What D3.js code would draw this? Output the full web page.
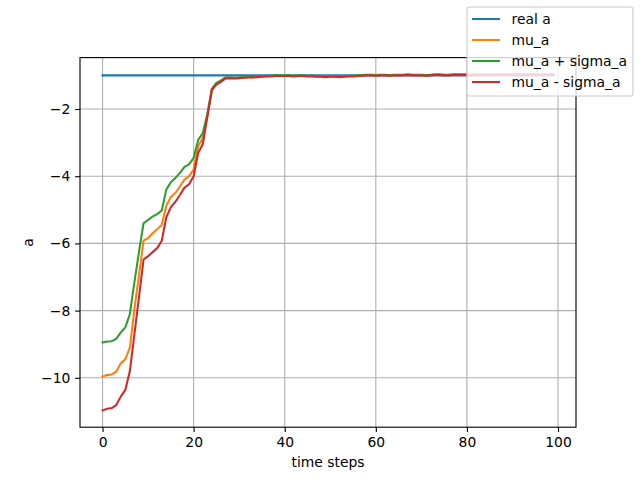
<!DOCTYPE html>
<html><head><meta charset="utf-8">
<script src="https://cdn.jsdelivr.net/npm/d3@7"></script>
<style>body{margin:0;background:#fff}svg{display:block}text{font-family:"DejaVu Sans",sans-serif}</style>
</head><body>
<script>
const steps = d3.range(0, 100);
const realA = steps.map(() => -1);
const muHead = [-9.96,-9.92,-9.90,-9.82,-9.57,-9.45,-9.10,-7.95,-6.95,-5.92,-5.84,-5.70,-5.58,-5.45,-4.88,-4.62,-4.50,-4.30,-4.10,-4.00,-3.80,-3.10,-2.86,-2.20,-1.42,-1.25,-1.17,-1.08];
const upperHead = [-8.95,-8.92,-8.91,-8.84,-8.65,-8.50,-8.10,-7.15,-6.25,-5.40,-5.30,-5.20,-5.13,-5.02,-4.40,-4.18,-4.05,-3.90,-3.72,-3.65,-3.45,-2.92,-2.72,-2.15,-1.40,-1.22,-1.15,-1.06];
const lowerHead = [-10.97,-10.92,-10.90,-10.81,-10.56,-10.36,-9.80,-8.70,-7.60,-6.48,-6.38,-6.26,-6.14,-5.92,-5.22,-4.92,-4.76,-4.56,-4.34,-4.24,-4.00,-3.30,-3.05,-2.25,-1.44,-1.27,-1.19,-1.09];
const muTail = [-1.07,-1.08,-1.07,-1.06,-1.05,-1.05,-1.04,-1.03,-1.02,-1.02,-1.01,-1.01,-1.01,-1.01,-1.02,-1.01,-1.01,-1.02,-1.02,-1.03,-1.03,-1.04,-1.03,-1.03,-1.04,-1.03,-1.02,-1.02,-1.01,-1.00,-0.99,-0.99,-1.00,-0.99,-0.99,-1.00,-0.99,-0.99,-0.99,-0.98,-0.99,-0.99,-0.99,-1.00,-0.99,-0.98,-0.98,-0.99,-0.99,-0.98,-0.98,-0.98,-0.98,-0.99,-0.98,-0.98,-0.98,-0.98,-0.98,-0.98,-0.98,-0.98,-0.98,-0.98,-0.98,-0.98,-0.98,-0.98,-0.98,-0.98,-0.98,-0.98];
const upperTail = [-1.06,-1.07,-1.06,-1.05,-1.04,-1.04,-1.03,-1.02,-1.01,-1.01,-1.00,-1.00,-1.00,-1.00,-1.01,-1.00,-1.00,-1.01,-1.01,-1.02,-1.02,-1.03,-1.02,-1.02,-1.03,-1.02,-1.01,-1.01,-1.00,-0.99,-0.98,-0.98,-0.99,-0.98,-0.98,-0.99,-0.98,-0.98,-0.98,-0.97,-0.98,-0.98,-0.98,-0.99,-0.98,-0.97,-0.97,-0.98,-0.98,-0.97,-0.97,-0.97,-0.97,-0.98,-0.97,-0.97,-0.97,-0.97,-0.97,-0.97,-0.97,-0.97,-0.97,-0.97,-0.97,-0.97,-0.97,-0.97,-0.97,-0.97,-0.97,-0.97];
const lowerTail = [-1.08,-1.09,-1.08,-1.07,-1.06,-1.06,-1.05,-1.04,-1.03,-1.03,-1.02,-1.02,-1.02,-1.02,-1.03,-1.02,-1.02,-1.03,-1.03,-1.04,-1.04,-1.05,-1.04,-1.04,-1.05,-1.04,-1.03,-1.03,-1.02,-1.01,-1.00,-1.00,-1.01,-1.00,-1.00,-1.01,-1.00,-1.00,-1.00,-0.99,-1.00,-1.00,-1.00,-1.01,-1.00,-0.99,-0.99,-1.00,-1.00,-0.99,-0.99,-0.99,-0.99,-1.00,-0.99,-0.99,-0.99,-0.99,-0.99,-0.99,-0.99,-0.99,-0.99,-0.99,-0.99,-0.99,-0.99,-0.99,-0.99,-0.99,-0.99,-0.99];
const muA = muHead.concat(muTail);
const upperA = upperHead.concat(upperTail);
const lowerA = lowerHead.concat(lowerTail);
const seriesNames = ["real a", "mu_a", "mu_a + sigma_a", "mu_a - sigma_a"];
const seriesColors = ["#1f77b4", "#ff7f0e", "#2ca02c", "#d62728"];
const xTicks = [0, 20, 40, 60, 80, 100];
const yTicks = [-10, -8, -6, -4, -2];
const xLabel = "time steps", yLabel = "a";

const W = 640, H = 480;
const L = 80, R = 576, T = 57.6, B = 427.2;
const series = [realA, muA, upperA, lowerA];
const all = series.flat();
const [ymin, ymax] = d3.extent(all);
const ypad = (ymax - ymin) * 0.05;
const xpad = 99 * 0.05;
const x = d3.scaleLinear().domain([-xpad, 99 + xpad]).range([L, R]);
const y = d3.scaleLinear().domain([ymin - ypad, ymax + ypad]).range([B, T]);

const svg = d3.select("body").append("svg").attr("width", W).attr("height", H);
svg.append("rect").attr("width", W).attr("height", H).attr("fill", "#fff");
const fs = 13.89;

// grid
const g = svg.append("g");
g.selectAll(".gx").data(xTicks).join("line")
  .attr("x1", d => x(d)).attr("x2", d => x(d)).attr("y1", T).attr("y2", B)
  .attr("stroke", "#b0b0b0").attr("stroke-width", 1.11);
g.selectAll(".gy").data(yTicks).join("line")
  .attr("y1", d => y(d)).attr("y2", d => y(d)).attr("x1", L).attr("x2", R)
  .attr("stroke", "#b0b0b0").attr("stroke-width", 1.11);

svg.append("clipPath").attr("id", "clip").append("rect")
  .attr("x", L).attr("y", T).attr("width", R - L).attr("height", B - T);

const line = d3.line().x((d, i) => x(steps[i])).y(d => y(d));
svg.append("g").attr("clip-path", "url(#clip)").selectAll("path").data(series).join("path")
  .attr("d", d => line(d)).attr("fill", "none")
  .attr("stroke", (d, i) => seriesColors[i]).attr("stroke-width", 2.08)
  .attr("stroke-linecap", "square").attr("stroke-linejoin", "round");

// axes
const xAxis = d3.axisBottom(x).tickValues(xTicks).tickSize(4.86).tickPadding(4.86).tickFormat(d3.format("d"));
const yAxis = d3.axisLeft(y).tickValues(yTicks).tickSize(4.86).tickPadding(4.86).tickFormat(d3.format("d"));
const gx = svg.append("g").attr("transform", `translate(0,${B})`).call(xAxis);
const gy = svg.append("g").attr("transform", `translate(${L},0)`).call(yAxis);
[gx, gy].forEach(a => {
  a.select(".domain").remove();
  a.selectAll(".tick line").attr("stroke", "#000").attr("stroke-width", 1.11);
  a.selectAll(".tick text").attr("font-size", fs).attr("fill", "#000").attr("font-family", "DejaVu Sans");
});
svg.append("rect").attr("x", L).attr("y", T).attr("width", R - L).attr("height", B - T)
  .attr("fill", "none").attr("stroke", "#000").attr("stroke-width", 1.11);

svg.append("text").attr("x", (L + R) / 2).attr("y", 467).attr("text-anchor", "middle")
  .attr("font-size", fs).text(xLabel);
svg.append("text").attr("transform", `translate(33,${(T + B) / 2}) rotate(-90)`).attr("text-anchor", "middle")
  .attr("font-size", fs).text(yLabel);

// legend
const lg = svg.append("g");
lg.append("rect").attr("x", 467).attr("y", 7).attr("width", 166).attr("height", 89)
  .attr("rx", 2.8).attr("fill", "#fff").attr("fill-opacity", 0.8)
  .attr("stroke", "#cccccc").attr("stroke-width", 1.11);
seriesNames.forEach((n, i) => {
  const yy = 19 + i * 21;
  lg.append("line").attr("x1", 472).attr("x2", 500).attr("y1", yy).attr("y2", yy)
    .attr("stroke", seriesColors[i]).attr("stroke-width", 2.08);
  lg.append("text").attr("x", 511.5).attr("y", yy + 5).attr("font-size", fs).text(n);
});
</script>
</body></html>
